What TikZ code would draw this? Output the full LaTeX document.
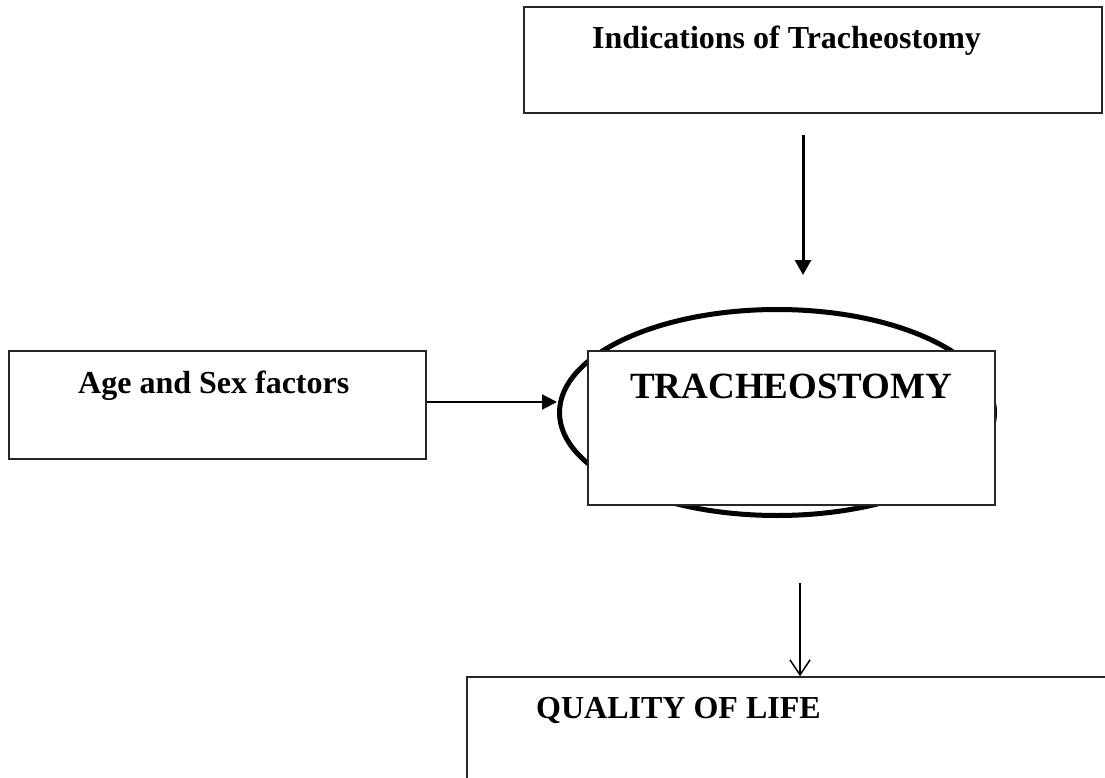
\documentclass[tikz,border=0pt]{standalone}
\usepackage{fontspec}
\setmainfont{Liberation Serif}
\usetikzlibrary{shapes.geometric,arrows.meta}
\tikzset{
  boxst/.style={draw=black!85, line width=1.5pt, fill=white, inner sep=0pt},
  txt/.style={anchor=base west, inner sep=0pt, font=\bfseries\fontsize{32}{38}\selectfont},
}
\begin{document}
\begin{tikzpicture}[x=1pt, y=-1pt]
\useasboundingbox (0, 0) rectangle (1105, 778);
\clip (0, 0) rectangle (1105, 778);
\node [boxst, minimum width=578pt, minimum height=106pt] (ind) at (813, 60) {};
\node [txt] (indt) at (592, 49) {Indications of Tracheostomy};
\node [boxst, minimum width=417pt, minimum height=108pt] (age) at (217.5, 405) {};
\node [txt] (aget) at (78, 393) {Age and Sex factors};
\node [ellipse, draw, line width=5pt, minimum width=435pt, minimum height=206pt, inner sep=0pt] (ell) at (777, 412.5) {};
\node [boxst, minimum width=407pt, minimum height=154pt] (tra) at (791.5, 428) {};
\node [txt, font=\bfseries\fontsize{37}{44}\selectfont] (trat) at (630, 398) {TRACHEOSTOMY};
\node [boxst, minimum width=653pt, minimum height=123pt] (qol) at (793.5, 738.5) {};
\node [txt] (qolt) at (536, 718) {QUALITY OF LIFE};
\coordinate (a1) at (803, 135);
\coordinate (a2) at (803, 275);
\coordinate (b1) at (800, 583);
\draw [-{Triangle[length=15pt, width=16pt]}, line width=3pt] (a1) to (a2);
\draw [-{Triangle[length=15pt, width=15pt]}, line width=2pt] ([yshift=3pt]age.east) to ([yshift=10.5pt]ell.west);
\draw [-{Straight Barb[length=15pt, width=20pt]}, line width=1.5pt] (b1) to (b1 |- qol.north);
\end{tikzpicture}
\end{document}
